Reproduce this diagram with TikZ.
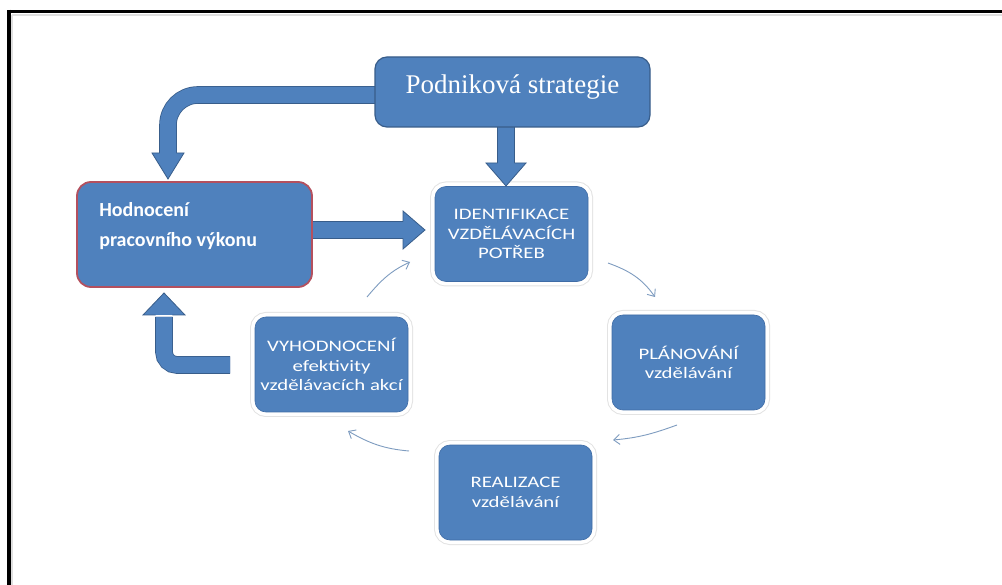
\documentclass[tikz,border=0pt]{standalone}
\usepackage{fontspec}
\setmainfont{Carlito}
\newfontfamily\cycfont{Carlito}[FakeStretch=1.3]
\newfontfamily\psfont{Liberation Serif}
\usetikzlibrary{arrows.meta,calc}
\definecolor{boxblue}{HTML}{4F81BD}
\definecolor{boxedge}{HTML}{3F6CA6}
\definecolor{arrowedge}{HTML}{385D8A}
\definecolor{hvedge}{HTML}{B4505E}
\definecolor{thinarrow}{HTML}{7E9CC0}
\tikzset{
  cycbox/.style={rounded corners=11pt, fill=boxblue, draw=boxedge, line width=0.6pt,
    minimum width=153pt, minimum height=95pt, text=white, align=center,
    font=\cycfont\fontsize{16}{19.5}\selectfont, inner sep=2pt,
    preaction={draw=gray!22, line width=10pt},
    preaction={draw=white, line width=8pt}},
  psbox/.style={rounded corners=12pt, fill=boxblue, draw=arrowedge, line width=1.2pt,
    minimum width=275pt, minimum height=70pt, text=white,
    font=\psfont\fontsize{27}{30}\selectfont, text height=20pt, text depth=17pt},
  hvbox/.style={rounded corners=14pt, fill=boxblue, draw=hvedge, line width=1.8pt,
    minimum width=235pt, minimum height=105pt},
  hvtext/.style={text=white, align=left, inner sep=0pt,
    font=\bfseries\fontsize{20}{30}\selectfont},
  band/.style={draw=arrowedge, line width=0.8pt, double=boxblue, double distance=16pt},
  bhead/.style={fill=boxblue, draw=arrowedge, line width=0.8pt, line join=miter},
  thin/.style={draw=thinarrow, line width=0.9pt, -{Straight Barb[length=6pt,width=10pt]}},
  frame/.style={line width=3.5pt, draw=black}
}
\begin{document}
\begin{tikzpicture}[x=1pt,y=-1pt]
\useasboundingbox (0,0) rectangle (1002,585);
\fill[white] (0,0) rectangle (1002,585);
% frame
\draw[gray!25, line width=2pt] (12,15) -- (1002,15);
\draw[gray!25, line width=2pt] (12,15) -- (12,585);
\draw[frame] (7,11.5) -- (1002,11.5);
\draw[frame] (9,9.75) -- (9,585);

% coordinates for block arrows
\coordinate (a1s) at (380,95);
\coordinate (a1c) at (168,95);
\coordinate (a1e) at (168,155);
\coordinate (a2s) at (506,122);
\coordinate (a2e) at (506,165);
\coordinate (a3s) at (308,230);
\coordinate (a3e) at (405,230);
\coordinate (a4s) at (230,365);
\coordinate (a4c) at (164,365);
\coordinate (a4e) at (164,317);

% block arrow bands
\draw[band, rounded corners=30pt] (a1s) -- (a1c) -- (a1e);
\draw[band] (a2s) -- (a2e);
\draw[band] (a3s) -- (a3e);
\draw[band, rounded corners=13pt] (a4s) -- (a4c) -- (a4e);

% nodes
\node[psbox] (ps) at (512.5,92) {Podniková strategie};
\node[hvbox] (hv) at (194.5,234.5) {};
\node[hvtext, anchor=north west] (hvt) at ($(hv.north west)+(23,21)$) {Hodnocení\\pracovního výkonu};
\node[cycbox] (id) at (511.5,234) {IDENTIFIKACE\\VZDĚLÁVACÍCH\\POTŘEB};
\node[cycbox] (pl) at (688.5,362.5) {PLÁNOVÁNÍ\\vzdělávání};
\node[cycbox] (re) at (515.5,492.5) {REALIZACE\\vzdělávání};
\node[cycbox] (vy) at (331.5,364.5) {VYHODNOCENÍ\\efektivity\\vzdělávacích akcí};

% block arrow heads (open base so band flows in)
\path[bhead] (159.6,153) -- (152,153) -- (168,179) -- (184,153) -- (176.4,153);
\path[bhead] (497.6,163) -- (486,163) -- (506,186) -- (526,163) -- (514.4,163);
\path[bhead] (403,221.6) -- (403,211) -- (425,230) -- (403,249) -- (403,238.4);
\path[bhead] (155.6,315) -- (143,315) -- (164,293) -- (185,315) -- (172.4,315);

% thin cycle arrows (angles in page orientation)
\coordinate (t1s) at (608,263);  \coordinate (t1e) at (655,297);
\coordinate (t2s) at (677,425);  \coordinate (t2e) at (613,440);
\coordinate (t3s) at (409,451);  \coordinate (t3e) at (348,431);
\coordinate (t4s) at (367,297);  \coordinate (t4e) at (410,262);
\draw[thin] (t1s) to[out=-20,in=125] (t1e);
\draw[thin] (t2s) to[out=200,in=5] (t2e);
\draw[thin] (t3s) to[out=175,in=-30] (t3e);
\draw[thin] (t4s) to[out=50,in=205] (t4e);
\end{tikzpicture}
\end{document}
